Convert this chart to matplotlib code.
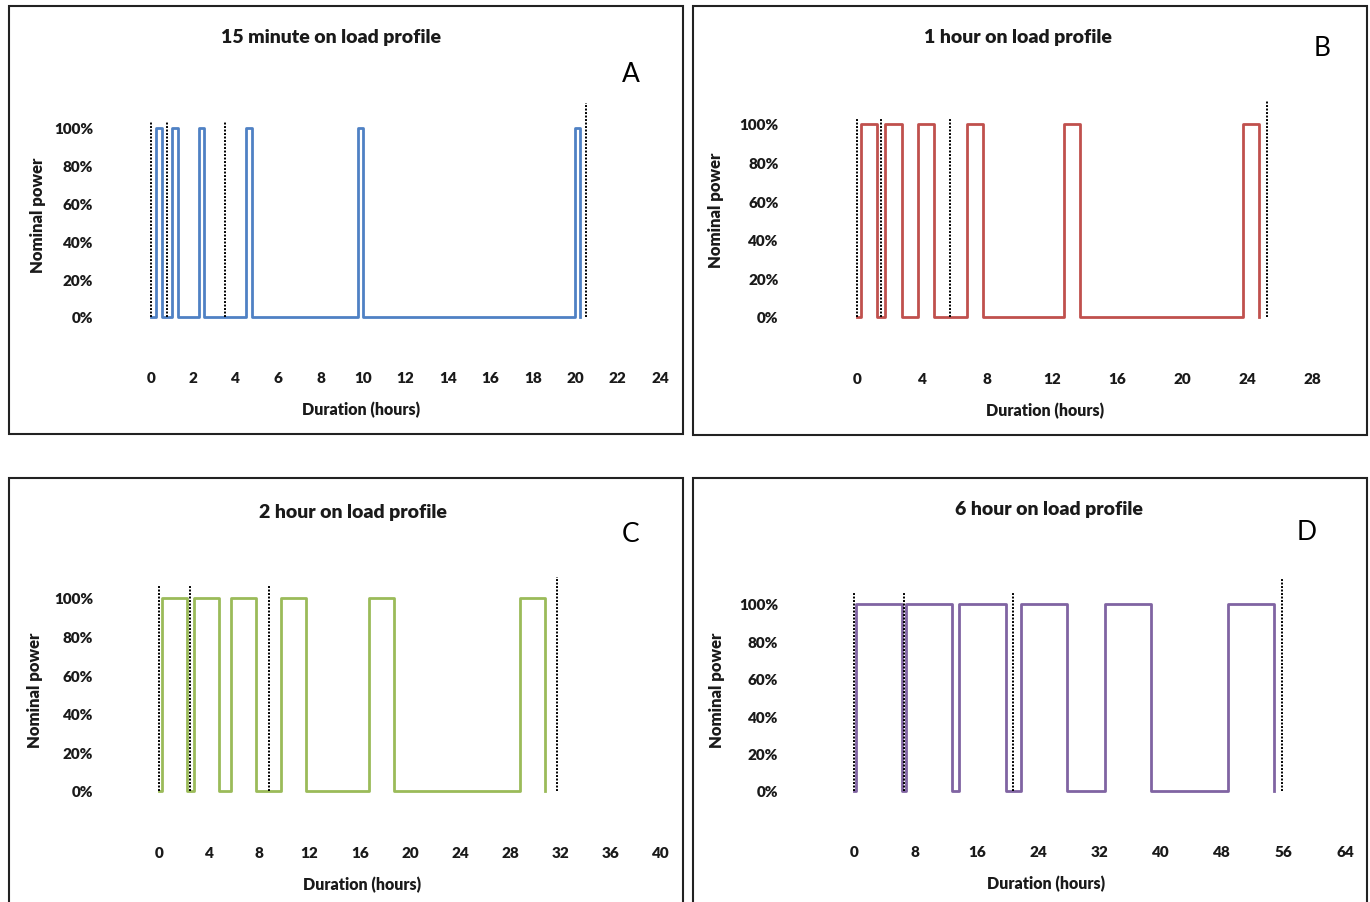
#!/usr/bin/env python3
import matplotlib

matplotlib.use("Agg")
import matplotlib.pyplot as plt  # noqa: E402
from matplotlib.patches import Rectangle  # noqa: E402
from matplotlib.ticker import PercentFormatter  # noqa: E402

W, H = 1370, 903
plt.rcParams["font.family"] = ["Lato", "DejaVu Sans"]

# switch times (hours) and on/off state after each switch
a_time = [0, 0.25, 0.5, 1.0, 1.25, 2.25, 2.5, 4.5, 4.75, 9.75, 10.0, 20.0, 20.25]
a_power = [0, 1, 0, 1, 0, 1, 0, 1, 0, 1, 0, 1, 0]
a_marks = [0, 0.75, 3.5, 20.5]
a_mark_top = [1.03, 1.03, 1.03, 1.13]

b_time = [0, 0.25, 1.25, 1.75, 2.75, 3.75, 4.75, 6.75, 7.75, 12.75, 13.75, 23.75, 24.75]
b_power = [0, 1, 0, 1, 0, 1, 0, 1, 0, 1, 0, 1, 0]
b_marks = [0, 1.5, 5.75, 25.25]
b_mark_top = [1.03, 1.03, 1.03, 1.12]

c_time = [0, 0.25, 2.25, 2.75, 4.75, 5.75, 7.75, 9.75, 11.75, 16.75, 18.75, 28.75, 30.75]
c_power = [0, 1, 0, 1, 0, 1, 0, 1, 0, 1, 0, 1, 0]
c_marks = [0, 2.5, 8.75, 31.75]
c_mark_top = [1.06, 1.06, 1.06, 1.11]

d_time = [0, 0.25, 6.25, 6.75, 12.75, 13.75, 19.75, 21.75, 27.75, 32.75, 38.75, 48.75, 54.75]
d_power = [0, 1, 0, 1, 0, 1, 0, 1, 0, 1, 0, 1, 0]
d_marks = [0, 6.5, 20.75, 55.75]
d_mark_top = [1.06, 1.06, 1.06, 1.14]

titles = ["15 minute on load profile", "1 hour on load profile",
          "2 hour on load profile", "6 hour on load profile"]
letters = ["A", "B", "C", "D"]
x_ticks = [list(range(0, 25, 2)), list(range(0, 29, 4)),
           list(range(0, 41, 4)), list(range(0, 65, 8))]
y_ticks = [0, 0.2, 0.4, 0.6, 0.8, 1.0]

panels = [
    dict(t=a_time, p=a_power, m=a_marks, mt=a_mark_top, color="#4f81c4",
         box=(9, 7, 683, 435), x0=151, x1=660, xv1=24, y0=318, y100=129,
         xlim=(-2.4, 25.0), title=(331, 38), letter=(631, 75),
         ylab=(38, 215), xlab=(361, 410)),
    dict(t=b_time, p=b_power, m=b_marks, mt=b_mark_top, color="#c0504d",
         box=(693, 7, 1367, 436), x0=857, x1=1312, xv1=28, y0=318, y100=125,
         xlim=(-4.4, 29.7), title=(1018, 38), letter=(1322, 49),
         ylab=(716, 210), xlab=(1045, 411)),
    dict(t=c_time, p=c_power, m=c_marks, mt=c_mark_top, color="#9bbb59",
         box=(9, 479, 683, 910), x0=159, x1=661, xv1=40, y0=792, y100=599,
         xlim=(-4.7, 40.7), title=(353, 513), letter=(631, 535),
         ylab=(35, 690), xlab=(362, 885)),
    dict(t=d_time, p=d_power, m=d_marks, mt=d_mark_top, color="#8064a2",
         box=(693, 479, 1367, 910), x0=854, x1=1345, xv1=64, y0=792, y100=605,
         xlim=(-9.0, 65.3), title=(1049, 510), letter=(1307, 532),
         ylab=(717, 690), xlab=(1046, 884)),
]

YLIM = (-0.25, 1.16)


def fx(px):
    return px / W


def fy(py):
    return 1 - py / H


fig = plt.figure(figsize=(W / 100, H / 100), dpi=100)

for i, pan in enumerate(panels):
    bx0, by0, bx1, by1 = pan["box"]
    fig.add_artist(Rectangle((fx(bx0), fy(by1)), fx(bx1 - bx0), (by1 - by0) / H,
                             transform=fig.transFigure, fill=False,
                             edgecolor="#222222", linewidth=1.5))

    sx = (pan["x1"] - pan["x0"]) / pan["xv1"]
    sy = pan["y0"] - pan["y100"]
    left = pan["x0"] + pan["xlim"][0] * sx
    right = pan["x0"] + pan["xlim"][1] * sx
    top = pan["y0"] - YLIM[1] * sy
    bottom = pan["y0"] - YLIM[0] * sy
    ax = fig.add_axes([fx(left), fy(bottom), fx(right - left), (bottom - top) / H])

    ax.step(pan["t"], pan["p"], where="post", color=pan["color"], linewidth=2.0)
    ax.vlines(pan["m"], 0, pan["mt"], colors="black", linestyles=(0, (1, 0.8)),
              linewidth=1.4)

    ax.set_xlim(*pan["xlim"])
    ax.set_ylim(*YLIM)
    ax.set_xticks(x_ticks[i])
    ax.set_yticks(y_ticks)
    ax.yaxis.set_major_formatter(PercentFormatter(1.0, decimals=0))
    ax.tick_params(length=0, labelsize=11)
    ax.tick_params(axis="x", pad=5)
    ax.tick_params(axis="y", pad=5)
    for lab in ax.get_xticklabels() + ax.get_yticklabels():
        lab.set_fontweight("heavy")
        lab.set_color("#1a1a1a")
    for side in ax.spines.values():
        side.set_visible(False)

    ax.set_ylabel("Nominal power", fontsize=12, fontweight="heavy", color="#1a1a1a")
    ax.yaxis.set_label_coords(fx(pan["ylab"][0]), fy(pan["ylab"][1]),
                              transform=fig.transFigure)
    ax.set_xlabel("Duration (hours)", fontsize=11.5, fontweight="heavy", color="#1a1a1a")
    ax.xaxis.set_label_coords(fx(pan["xlab"][0]), fy(pan["xlab"][1]),
                              transform=fig.transFigure)
    ax.xaxis.label.set_va("center")
    ax.yaxis.label.set_va("center")

    fig.text(fx(pan["title"][0]), fy(pan["title"][1]), titles[i], ha="center",
             va="center", fontsize=14, fontweight="heavy", color="#1a1a1a")
    fig.text(fx(pan["letter"][0]), fy(pan["letter"][1]), letters[i], ha="center",
             va="center", fontsize=19, color="black")

fig.savefig("out.png", dpi=100)
